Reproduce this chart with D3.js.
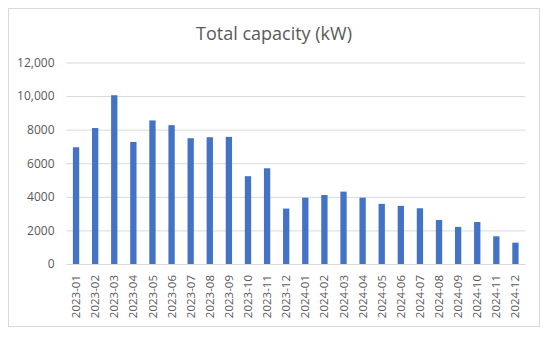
<!DOCTYPE html>
<html>
<head>
<meta charset="utf-8">
<script src="https://cdn.jsdelivr.net/npm/d3@7"></script>
<style>
  body { margin: 0; background: #fff; }
  text { font-family: "Open Sans", "Noto Sans", sans-serif; fill: #595959; }
</style>
</head>
<body>
<div id="chart"></div>
<script>
// months on the x axis
const months = ["2023-01", "2023-02", "2023-03", "2023-04", "2023-05", "2023-06",
  "2023-07", "2023-08", "2023-09", "2023-10", "2023-11", "2023-12",
  "2024-01", "2024-02", "2024-03", "2024-04", "2024-05", "2024-06",
  "2024-07", "2024-08", "2024-09", "2024-10", "2024-11", "2024-12"];

// total capacity in kW
const capacity = [6950, 8100, 10050, 7270, 8550, 8270, 7490, 7550, 7570, 5230, 5700, 3300,
  3950, 4110, 4310, 3950, 3580, 3460, 3320, 2620, 2210, 2500, 1650, 1270];

// y ticks, excel labels them with and without thousands separator
const yTicks = [0, 2000, 4000, 6000, 8000, 10000, 12000];
const yTickLabels = ["0", "2000", "4000", "6000", "8000", "10,000", "12,000"];

const width = 550, height = 340;
const margin = { top: 62.5, right: 25, bottom: 76, left: 66.5 };

const svg = d3.select("#chart").append("svg")
  .attr("width", width).attr("height", height);

// chart frame
svg.append("rect")
  .attr("x", 8.5).attr("y", 8.5)
  .attr("width", 531).attr("height", 318)
  .attr("fill", "#fff").attr("stroke", "#d9d9d9");

svg.append("text")
  .attr("x", 274).attr("y", 39.5)
  .attr("text-anchor", "middle")
  .style("font-size", "18px")
  .text("Total capacity (kW)");

const x = d3.scaleBand()
  .domain(months)
  .range([margin.left, width - margin.right])
  .paddingInner(0.67)
  .paddingOuter(0.335);

const y = d3.scaleLinear()
  .domain([0, 12000])
  .range([height - margin.bottom, margin.top]);

// gridlines
const yAxis = svg.append("g")
  .attr("transform", `translate(${margin.left},0)`)
  .call(d3.axisLeft(y)
    .tickValues(yTicks)
    .tickSize(-(width - margin.left - margin.right))
    .tickPadding(12)
    .tickFormat((d, i) => yTickLabels[i]));
yAxis.select(".domain").remove();
yAxis.selectAll("line").attr("stroke", "#d9d9d9");
yAxis.selectAll("text").style("font-size", "12px").attr("fill", "#595959");

// bars
svg.append("g").selectAll("rect")
  .data(capacity)
  .enter()
  .append("rect")
  .attr("x", (d, i) => x(months[i]))
  .attr("width", x.bandwidth())
  .attr("y", d => y(d))
  .attr("height", d => y(0) - y(d))
  .attr("fill", "#4472c4");

// x axis, labels rotated
const xAxis = svg.append("g")
  .attr("transform", `translate(0,${y(0)})`)
  .call(d3.axisBottom(x).tickSize(0).tickPadding(0));
xAxis.select(".domain").attr("stroke", "#d9d9d9");
xAxis.selectAll("text")
  .style("font-size", "11.5px")
  .attr("fill", "#595959")
  .attr("text-anchor", "end")
  .attr("dy", "0.35em")
  .attr("transform", "translate(0,11) rotate(-90)");
</script>
</body>
</html>
